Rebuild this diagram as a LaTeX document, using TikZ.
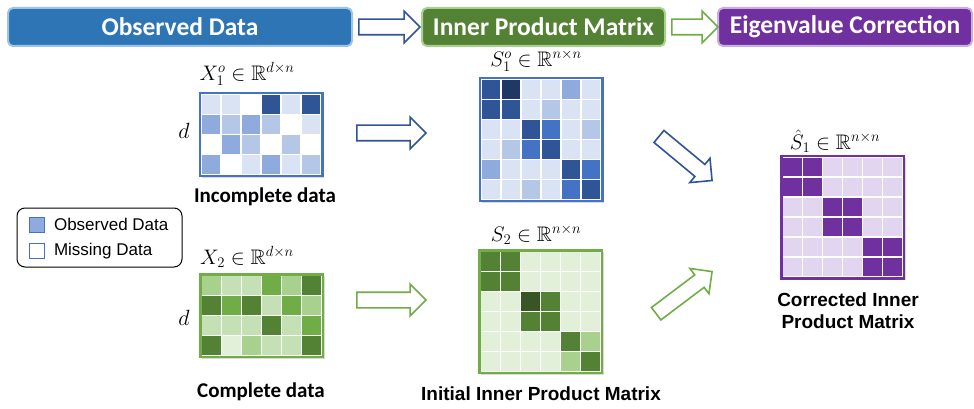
\RequirePackage{fix-cm}
\documentclass[tikz,border=0pt]{standalone}
\usepackage{fontspec}
\usepackage{amssymb}
\usetikzlibrary{shapes.arrows,shadows,positioning}

\newfontfamily\calibri{Carlito}
\newfontfamily\arial{Liberation Sans}

% blues
\definecolor{bl1}{HTML}{DAE3F3}
\definecolor{bl2}{HTML}{B4C7E7}
\definecolor{bl3}{HTML}{8FAADC}
\definecolor{bl4}{HTML}{4472C4}
\definecolor{bl5}{HTML}{2F5597}
\definecolor{bl6}{HTML}{203864}
% greens
\definecolor{gr1}{HTML}{E2F0D9}
\definecolor{gr2}{HTML}{C5E0B4}
\definecolor{gr3}{HTML}{A9D18E}
\definecolor{gr4}{HTML}{70AD47}
\definecolor{gr5}{HTML}{548235}
\definecolor{gr6}{HTML}{375623}
% purples
\definecolor{pu1}{HTML}{E1D5F0}
\definecolor{pu2}{HTML}{7030A0}
% header bars
\definecolor{hdblue}{HTML}{2E75B6}
\definecolor{hdblueedge}{HTML}{9DC3E6}
\definecolor{hdgreenedge}{HTML}{A9D18E}
\definecolor{hdpurpleedge}{HTML}{C9AEE3}

% fill the cells of a framed matrix, one row per group
\newcommand{\fillcells}[2]{%
  \foreach \row [count=\r from 0] in {#2}
    \foreach \c [count=\k from 0] in \row
      \fill[\c] ([shift={(2+20*\k,2+20*\r)}]#1.north west) rectangle +(18.5,18.5);
}

\begin{document}
\begin{tikzpicture}[x=1pt, y=-1pt,
    header/.style={rounded corners=5pt, line width=2pt, minimum height=38pt,
      text=white, font=\calibri\bfseries\fontsize{25.5}{30}\selectfont},
    flowarrow/.style={single arrow, fill=white, line width=1.6pt, text height=14pt,
      text depth=0pt, inner sep=0pt, single arrow head extend=8pt, minimum height=#1},
    frame/.style={draw, fill=white, line width=2.5pt, inner sep=0pt, outer sep=0pt,
      drop shadow={shadow xshift=2pt, shadow yshift=-2pt, opacity=0.3}},
    mathlabel/.style={font=\fontsize{21}{24}\selectfont},
    caption/.style={font=\calibri\bfseries\fontsize{21}{25}\selectfont},
    boldcap/.style={font=\arial\bfseries\fontsize{19}{22}\selectfont, align=center},
    legtext/.style={font=\arial\fontsize{17}{20}\selectfont, anchor=west},
    legbox/.style={line width=1pt, minimum size=15pt, inner sep=0pt},
  ]
  \useasboundingbox (0,0) rectangle (974,409);

  % top bar
  \node[header, fill=hdblue, draw=hdblueedge, minimum width=344pt] (obs) at (180,27) {Observed Data};
  \node[header, fill=gr5, draw=hdgreenedge, minimum width=243pt] (ipm) at (543.5,27) {Inner Product Matrix};
  \node[header, fill=pu2, draw=hdpurpleedge, minimum width=254pt] (eig) at (845,27) {Eigenvalue Correction};
  \node[flowarrow=61pt, draw=bl5] (h1) at (385.5,27) {};
  \node[flowarrow=46pt, draw=gr4] (h2) at (691,27) {};

  % incomplete data
  \node[mathlabel] (x1lab) at (247,74) {$X_1^o \in \mathbb{R}^{d\times n}$};
  \node[frame, draw=bl4, minimum width=122.5pt, minimum height=82.5pt] (X1) at (261,134.5) {};
  \fillcells{X1}{{bl1,bl1,white,bl5,bl1,bl5},
                 {bl3,bl2,bl3,bl2,white,bl1},
                 {white,bl3,bl2,white,bl2,white},
                 {bl3,white,bl1,bl3,bl1,bl2}}
  \node[mathlabel, font=\fontsize{22}{24}\selectfont] (d1) at (184,131) {$d$};
  \node[caption] (inc) at (265,197) {Incomplete data};

  % observed inner products
  \node[mathlabel] (s1lab) at (536,61) {$S_1^o \in \mathbb{R}^{n\times n}$};
  \node[frame, draw=bl4, minimum width=122.5pt, minimum height=122.5pt] (S1) at (541,139.5) {};
  \fillcells{S1}{{bl5,bl6,bl1,bl1,bl3,bl1},
                 {bl5,bl5,bl1,bl2,bl1,bl1},
                 {bl1,bl1,bl5,bl4,bl1,bl2},
                 {bl1,bl2,bl4,bl5,bl1,bl1},
                 {bl3,bl1,bl1,bl1,bl5,bl4},
                 {bl1,bl1,bl2,bl1,bl4,bl5}}
  \node[flowarrow=69pt, draw=bl5] (m1) at (387.5,133) {};

  % legend
  \node[draw, rounded corners=8pt, line width=1pt, minimum width=165pt, minimum height=59pt] (legend) at (99.5,237.5) {};
  \node[legbox, draw=bl4, fill=bl3] (obsbox) at (36.5,224.5) {};
  \node[legtext, right=6pt of obsbox] (obstxt) {Observed Data};
  \node[legbox, draw=bl4, fill=white] (misbox) at (36.5,251) {};
  \node[legtext, right=6pt of misbox] (mistxt) {Missing Data};

  % complete data
  \node[mathlabel] (x2lab) at (247,257) {$X_2 \in \mathbb{R}^{d\times n}$};
  \node[frame, draw=gr4, minimum width=122.5pt, minimum height=82.5pt] (X2) at (261.5,315.5) {};
  \fillcells{X2}{{gr3,gr2,gr2,gr4,gr3,gr5},
                 {gr5,gr4,gr5,gr2,gr4,gr3},
                 {gr2,gr2,gr2,gr5,gr2,gr4},
                 {gr5,gr1,gr3,gr2,gr2,gr5}}
  \node[mathlabel, font=\fontsize{22}{24}\selectfont] (d2) at (184,318) {$d$};
  \node[caption] (cmp) at (261,392) {Complete data};

  % initial inner products
  \node[mathlabel] (s2lab) at (536,235) {$S_2 \in \mathbb{R}^{n\times n}$};
  \node[frame, draw=gr4, minimum width=122.5pt, minimum height=122.5pt] (S2) at (540.5,311.5) {};
  \fillcells{S2}{{gr5,gr5,gr1,gr1,gr1,gr1},
                 {gr5,gr5,gr1,gr1,gr1,gr1},
                 {gr1,gr1,gr6,gr5,gr1,gr1},
                 {gr1,gr1,gr5,gr5,gr1,gr1},
                 {gr1,gr1,gr1,gr1,gr5,gr3},
                 {gr1,gr1,gr1,gr1,gr3,gr5}}
  \node[flowarrow=69pt, draw=gr4] (m2) at (387.5,300) {};
  \node[boldcap] (init) at (541,394) {Initial Inner Product Matrix};

  % corrected result
  \node[flowarrow=69pt, draw=bl5, rotate=-39.7] (d1arr) at (682.5,156) {};
  \node[flowarrow=70pt, draw=gr4, rotate=37] (d2arr) at (681,295) {};
  \node[mathlabel] (shlab) at (835,141) {$\hat{S}_1 \in \mathbb{R}^{n\times n}$};
  \node[frame, draw=pu2, minimum width=122.5pt, minimum height=122.5pt] (SH) at (842.5,217) {};
  \fillcells{SH}{{pu2,pu2,pu1,pu1,pu1,pu1},
                 {pu2,pu2,pu1,pu1,pu1,pu1},
                 {pu1,pu1,pu2,pu2,pu1,pu1},
                 {pu1,pu1,pu2,pu2,pu1,pu1},
                 {pu1,pu1,pu1,pu1,pu2,pu2},
                 {pu1,pu1,pu1,pu1,pu2,pu2}}
  \node[boldcap] (corr) at (848,311) {Corrected Inner\\Product Matrix};
\end{tikzpicture}
\end{document}
